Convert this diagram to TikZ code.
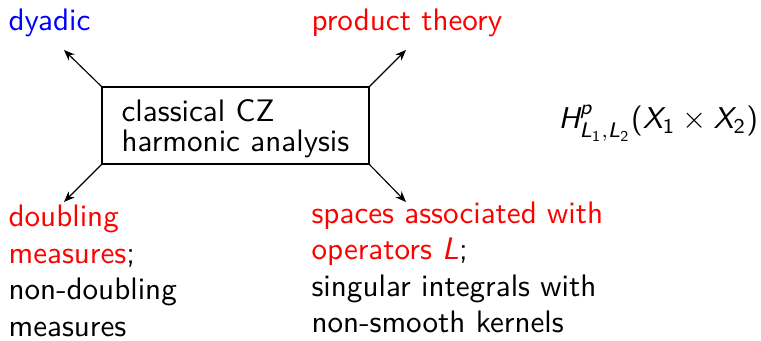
\documentclass[tikz,border=0pt]{standalone}
\usepackage{amsmath}
\usepackage{xcolor}
\usetikzlibrary{arrows.meta}
\newcommand{\sfvar}[1]{\text{\itshape #1}}
\newcommand{\sfnum}[1]{\text{#1}}
\tikzset{
  every node/.style={font=\fontsize{10.95}{12.9}\selectfont\sffamily},
  czbox/.style={
    rectangle, draw=black, line width=0.4pt,
    minimum width=94pt, minimum height=27.1pt,
    inner sep=0pt, align=left, text depth=0pt,
    font=\fontsize{10.95}{10.3}\selectfont\sffamily
  },
  branch/.style={anchor=base west, inner sep=0pt, align=left},
  arrow/.style={
    -{Stealth[length=3.8pt,width=3pt]},
    line width=0.4pt, draw=black
  },
}

\begin{document}
\begin{tikzpicture}[x=0.3522pt, y=-0.3522pt]
  \useasboundingbox (0,0) rectangle (761,341);
  \node[czbox] (cz) at (235.5,125.5) {classical CZ\\harmonic analysis};
  \node[branch, color=blue] (dyadic) at (8,31) {dyadic};
  \node[branch, color=red] (product) at (311,31) {product theory};
  % base anchor sits on the last line
  \node[branch] (doubling) at (8,336.5) {\textcolor{red}{doubling}\\\textcolor{red}{measures};\\non-doubling\\measures};
  \node[branch] (spaces) at (311,333) {\textcolor{red}{spaces associated with}\\\textcolor{red}{operators \textit{L}};\\singular integrals with\\non-smooth kernels};
  \node[branch, font=\fontsize{10.6}{12}\selectfont\sffamily] (hardy) at (558,129) {$\sfvar{H}^{\sfvar{p}}_{\sfvar{L}_{\sfnum{1}},\sfvar{L}_{\sfnum{2}}}\sfnum{(}\sfvar{X}_{\sfnum{1}}\times\sfvar{X}_{\sfnum{2}}\sfnum{)}$};
  % arrow tips
  \coordinate (dyadic-tip) at (64,50);
  \coordinate (product-tip) at (406,50);
  \coordinate (doubling-tip) at (64,202);
  \coordinate (spaces-tip) at (406,202);
  \draw[arrow] (cz.north west) -- (dyadic-tip);
  \draw[arrow] (cz.north east) -- (product-tip);
  \draw[arrow] (cz.south west) -- (doubling-tip);
  \draw[arrow] (cz.south east) -- (spaces-tip);
\end{tikzpicture}
\end{document}
